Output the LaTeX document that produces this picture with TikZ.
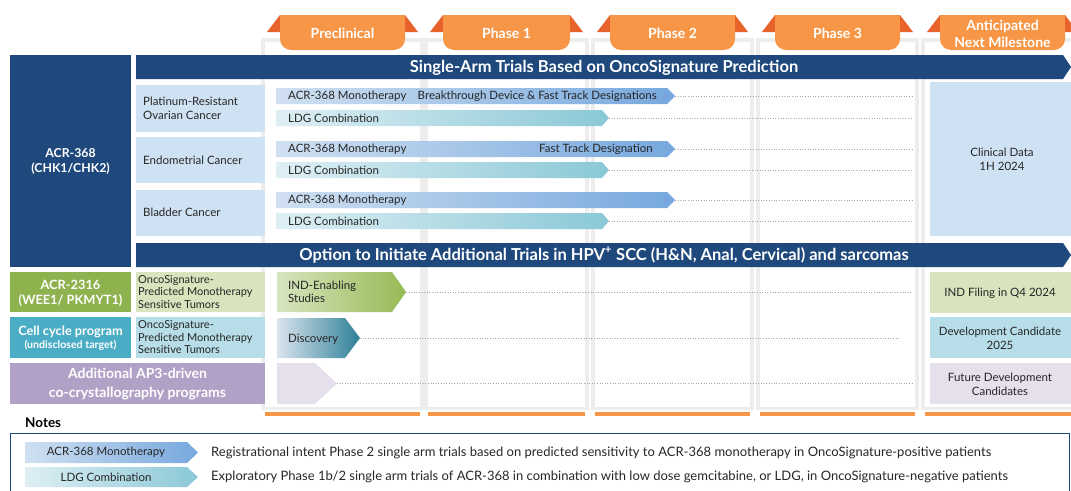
\documentclass[tikz,border=0pt]{standalone}
\usepackage{fontspec}
\setmainfont{Lato}
\usetikzlibrary{positioning}

\definecolor{navy}{RGB}{31,73,125}
\definecolor{tabor}{RGB}{247,150,70}
\definecolor{tabdk}{RGB}{232,98,44}
\definecolor{indic}{RGB}{207,226,243}
\definecolor{monoL}{RGB}{208,224,241}
\definecolor{monoR}{RGB}{118,168,222}
\definecolor{ldgL}{RGB}{222,239,244}
\definecolor{ldgR}{RGB}{138,200,214}
\definecolor{wgreen}{RGB}{142,178,78}
\definecolor{wgreenlt}{RGB}{215,228,189}
\definecolor{cteal}{RGB}{75,172,198}
\definecolor{ctealt}{RGB}{183,222,232}
\definecolor{apurple}{RGB}{178,161,199}
\definecolor{alav}{RGB}{229,224,236}
\definecolor{indL}{RGB}{216,229,192}
\definecolor{indR}{RGB}{150,186,84}
\definecolor{discL}{RGB}{218,228,238}
\definecolor{discR}{RGB}{46,128,152}

\tikzset{
  basetxt/.style={font=\fontsize{11.5}{14}\selectfont, inner sep=0pt, text=black!85},
  bartxt/.style={basetxt, anchor=west, align=left},
  notetxt/.style={font=\fontsize{13}{15}\selectfont, inner sep=0pt, text=black!85, anchor=west},
  tabtxt/.style={font=\bfseries\fontsize{14}{17}\selectfont, text=white, align=center, inner sep=0pt},
  bannertxt/.style={font=\bfseries\fontsize{16.5}{18}\selectfont, text=white, inner sep=0pt},
  progtxt/.style={font=\bfseries\fontsize{12.8}{15}\selectfont, text=white, align=center, inner sep=0pt},
  tumortxt/.style={font=\fontsize{11}{12.5}\selectfont, align=left, anchor=west, inner sep=0pt, text=black!85},
  miletxt/.style={basetxt, align=center},
  track/.style={black!35, dotted, line width=0.6pt},
  monofill/.style={left color=monoL, right color=monoR},
  ldgfill/.style={left color=ldgL, right color=ldgR},
}

\begin{document}
\begin{tikzpicture}[x=1pt,y=-1pt]
\useasboundingbox (0,0) rectangle (1071,490);

% phase columns
\foreach \xa/\xb in {265/420,428/585,595/750,760/915,925/1071} {
  \fill[black!7] (\xa-4,38) rectangle (\xb+4,410);
  \fill[white] (\xa,42) rectangle (\xb,407);
  \fill[tabor] (\xa,412) rectangle (\xb,416);
}

% phase tabs
\foreach \xa/\xb/\nm/\lbl in {280/405/pre/Preclinical,443/570/ph1/Phase 1,610/735/ph2/Phase 2,775/900/ph3/Phase 3,940/1065/nxt/{Anticipated\\Next Milestone}} {
  \fill[tabdk] (\xa,15) -- (\xa,32) -- (\xa-13,32) -- cycle;
  \fill[tabdk] (\xb,15) -- (\xb,32) -- (\xb+13,32) -- cycle;
  \fill[tabor, rounded corners=11pt] (\xa,15) rectangle (\xb,50);
  \fill[tabor] (\xa,15) rectangle (\xb,30);
  \node[tabtxt] (\nm) at ({(\xa+\xb)/2},33.5) {\lbl};
}

% ACR-368 block
\fill[navy] (10,55) rectangle (131,267);
\node[progtxt, font=\bfseries\fontsize{12.3}{15}\selectfont] (acr368) at (70.5,161) {ACR-368\\(CHK1/CHK2)};
\fill[navy] (136,55) -- (1063,55) -- (1071,67) -- (1063,79) -- (136,79) -- cycle;
\node[bannertxt] (single) at (604,67.5) {Single-Arm Trials Based on OncoSignature Prediction};

\fill[indic] (136,85) rectangle (265,132);
\node[bartxt] (ovarian) at (143,108) {Platinum-Resistant\\Ovarian Cancer};
\fill[indic] (136,137) rectangle (265,183);
\node[bartxt] (endo) at (143,160) {Endometrial Cancer};
\fill[indic] (136,190) rectangle (265,236);
\node[bartxt] (bladder) at (143,212) {Bladder Cancer};
\fill[indic] (930,82) rectangle (1071,236);
\node[miletxt] (clindata) at (1002,159) {Clinical Data\\1H 2024};

% trial bars
\foreach \yy [count=\i] in {88,141,192} {
  \shade[monofill] (276,\yy) -- (667,\yy) -- (675,\yy+8) -- (667,\yy+16) -- (276,\yy+16) -- cycle;
  \node[bartxt] (mono\i) at (288,\yy+8) {ACR-368 Monotherapy};
  \coordinate (monotip\i) at (675,\yy+8);
  \coordinate (monoend\i) at (913,\yy+8);
  \draw[track] (monotip\i) -- (monoend\i);
}
\foreach \yy [count=\i] in {110,162,213} {
  \shade[ldgfill] (276,\yy) -- (602,\yy) -- (609,\yy+8) -- (602,\yy+16) -- (276,\yy+16) -- cycle;
  \node[bartxt] (ldg\i) at (288,\yy+8) {LDG Combination};
  \coordinate (ldgtip\i) at (609,\yy+8);
  \coordinate (ldgend\i) at (913,\yy+8);
  \draw[track] (ldgtip\i) -- (ldgend\i);
}
\node[basetxt, anchor=east] (btd) at (657,96) {Breakthrough Device \& Fast Track Designations};
\node[basetxt, anchor=east] (ftd) at (653,149) {Fast Track Designation};

\fill[navy] (136,243) -- (1063,243) -- (1071,255) -- (1063,267) -- (136,267) -- cycle;
\node[bannertxt] (option) at (604,255) {Option to Initiate Additional Trials in HPV\textsuperscript{+} SCC (H\&N, Anal, Cervical) and sarcomas};

% other programs
\fill[wgreen] (10,272) rectangle (131,312);
\node[progtxt] (acr2316) at (70.5,293) {ACR-2316\\(WEE1/ PKMYT1)};
\fill[wgreenlt] (136,272) rectangle (265,312);
\node[tumortxt] (tumor1) at (138,292) {OncoSignature-\\Predicted Monotherapy\\Sensitive Tumors};
\fill[cteal] (10,317) rectangle (131,358);
\node[progtxt, font=\bfseries\fontsize{12.8}{13.5}\selectfont] (cellcycle) at (70.5,338) {Cell cycle program\\{\fontsize{10.6}{12}\selectfont (undisclosed target)}};
\fill[ctealt] (136,317) rectangle (265,358);
\node[tumortxt] (tumor2) at (138,337.5) {OncoSignature-\\Predicted Monotherapy\\Sensitive Tumors};
\fill[apurple] (10,363) rectangle (265,404);
\node[progtxt, font=\bfseries\fontsize{14}{19.5}\selectfont] (ap3) at (137.5,384) {Additional AP3-driven\\co-crystallography programs};

\shade[left color=indL, right color=indR] (277,272) -- (392,272) -- (406,292) -- (392,312) -- (277,312) -- cycle;
\node[bartxt, font=\fontsize{11.5}{13}\selectfont] (indstudy) at (288,292) {IND-Enabling\\Studies};
\shade[left color=discL, right color=discR] (277,318) -- (345,318) -- (360,338) -- (345,358) -- (277,358) -- cycle;
\node[bartxt] (discovery) at (288,339) {Discovery};
\fill[alav] (277,363) -- (315,363) -- (337,383.5) -- (315,404) -- (277,404) -- cycle;
\coordinate (indtip) at (406,292);
\coordinate (indend) at (913,292);
\coordinate (disctip) at (360,338);
\coordinate (discend) at (900,338);
\coordinate (futtip) at (337,383.5);
\coordinate (futend) at (913,383.5);
\draw[track] (indtip) -- (indend);
\draw[track] (disctip) -- (discend);
\draw[track] (futtip) -- (futend);

\fill[wgreenlt] (930,272) rectangle (1071,313);
\node[miletxt] (indfiling) at (1000,293) {IND Filing in Q4 2024};
\fill[ctealt] (930,317) rectangle (1071,358);
\node[miletxt] (devcand) at (1000,338) {Development Candidate\\2025};
\fill[alav] (930,363) rectangle (1071,404);
\node[miletxt] (futdev) at (1000,384) {Future Development\\Candidates};

% notes
\node[font=\bfseries\fontsize{13.5}{15}\selectfont, anchor=west, inner sep=0pt] (notes) at (25,423) {Notes};
\draw[navy, line width=0.8pt] (10,492) -- (10,433) -- (1069,433) -- (1069,492);
\shade[monofill] (25,442) -- (187,442) -- (198,452.5) -- (187,463) -- (25,463) -- cycle;
\node[basetxt] (keymono) at (106,452.5) {ACR-368 Monotherapy};
\shade[ldgfill] (25,467) -- (187,467) -- (198,477) -- (187,487) -- (25,487) -- cycle;
\node[basetxt] (keyldg) at (106,477) {LDG Combination};
\node[notetxt] (mononote) at (211,452.5) {Registrational intent Phase 2 single arm trials based on predicted sensitivity to ACR-368 monotherapy in OncoSignature-positive patients};
\node[notetxt] (ldgnote) at (211,477) {Exploratory Phase 1b/2 single arm trials of ACR-368 in combination with low dose gemcitabine, or LDG, in OncoSignature-negative patients};
\end{tikzpicture}
\end{document}
